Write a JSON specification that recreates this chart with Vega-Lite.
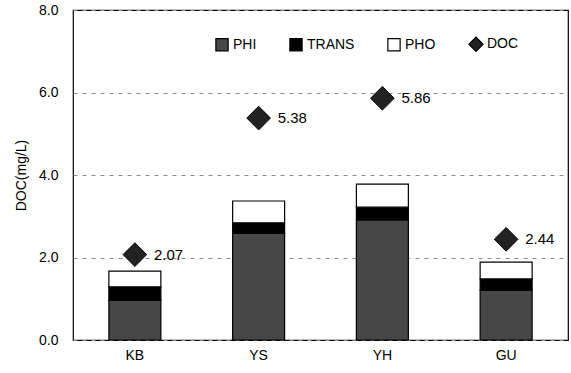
{
  "$schema": "https://vega.github.io/schema/vega-lite/v6.json",
  "width": 495,
  "height": 330,
  "autosize": "none",
  "padding": {"left": 73, "top": 10, "right": 3, "bottom": 33},
  "background": "white",
  "config": {
    "font": "Liberation Sans",
    "view": {"stroke": "black", "strokeWidth": 1.2}
  },
  "datasets": {
    "parts": [
      {"site": "KB", "part": "PHI", "ord": 1, "value": 0.96},
      {"site": "KB", "part": "TRANS", "ord": 2, "value": 0.33},
      {"site": "KB", "part": "PHO", "ord": 3, "value": 0.38},
      {"site": "YS", "part": "PHI", "ord": 1, "value": 2.59},
      {"site": "YS", "part": "TRANS", "ord": 2, "value": 0.25},
      {"site": "YS", "part": "PHO", "ord": 3, "value": 0.53},
      {"site": "YH", "part": "PHI", "ord": 1, "value": 2.91},
      {"site": "YH", "part": "TRANS", "ord": 2, "value": 0.31},
      {"site": "YH", "part": "PHO", "ord": 3, "value": 0.56},
      {"site": "GU", "part": "PHI", "ord": 1, "value": 1.21},
      {"site": "GU", "part": "TRANS", "ord": 2, "value": 0.27},
      {"site": "GU", "part": "PHO", "ord": 3, "value": 0.41}
    ],
    "doc": [
      {"site": "KB", "part": "DOC", "doc": 2.07},
      {"site": "YS", "part": "DOC", "doc": 5.38},
      {"site": "YH", "part": "DOC", "doc": 5.86},
      {"site": "GU", "part": "DOC", "doc": 2.44}
    ]
  },
  "encoding": {
    "x": {
      "field": "site",
      "type": "nominal",
      "sort": ["KB", "YS", "YH", "GU"],
      "scale": {"paddingInner": 0.58, "paddingOuter": 0.29},
      "axis": {
        "title": null,
        "labelAngle": 0,
        "labelFontSize": 14,
        "labelColor": "black",
        "labelPadding": 8,
        "domain": false,
        "ticks": false
      }
    }
  },
  "layer": [
    {
      "data": {"name": "parts"},
      "mark": {"type": "bar", "stroke": "black", "strokeWidth": 1.2},
      "encoding": {
        "y": {
          "field": "value",
          "type": "quantitative",
          "stack": "zero",
          "scale": {"domain": [0, 8]},
          "axis": {
            "title": "DOC(mg/L)",
            "titleFontSize": 14,
            "titleFontWeight": "normal",
            "titleColor": "black",
            "titlePadding": 10,
            "format": ".1f",
            "values": [0, 2, 4, 6, 8],
            "labelFontSize": 14,
            "labelColor": "black",
            "labelPadding": 15,
            "ticks": false,
            "domain": false,
            "grid": true,
            "gridColor": "#8a8a8a",
            "gridDash": [4, 5],
            "gridWidth": 1
          }
        },
        "order": {"field": "ord", "type": "quantitative"},
        "color": {
          "field": "part",
          "type": "nominal",
          "scale": {
            "domain": ["PHI", "TRANS", "PHO", "DOC"],
            "range": ["#474747", "#000000", "#ffffff", "#222222"]
          },
          "legend": {
            "title": null,
            "orient": "none",
            "direction": "horizontal",
            "legendX": 142,
            "legendY": 27,
            "padding": 0,
            "symbolSize": 150,
            "symbolStrokeColor": "black",
            "symbolStrokeWidth": 1.2,
            "symbolOpacity": 1,
            "labelFontSize": 14,
            "labelColor": "black",
            "labelOffset": 4,
            "columnPadding": 30,
            "encode": {
              "symbols": {
                "update": {
                  "shape": {"signal": "datum.label === 'DOC' ? 'diamond' : 'square'"},
                  "size": {"signal": "datum.label === 'DOC' ? 200 : 150"}
                }
              }
            }
          }
        }
      }
    },
    {
      "data": {"name": "doc"},
      "mark": {"type": "point", "shape": "diamond", "filled": true, "opacity": 1, "size": 560, "fill": "#222222", "stroke": "black", "strokeWidth": 1},
      "encoding": {
        "y": {"field": "doc", "type": "quantitative"}
      }
    },
    {
      "data": {"name": "doc"},
      "mark": {"type": "text", "align": "left", "baseline": "middle", "dx": 19, "fontSize": 15, "color": "black"},
      "encoding": {
        "y": {"field": "doc", "type": "quantitative"},
        "text": {"field": "doc", "type": "quantitative", "format": ".2f"}
      }
    }
  ]
}
